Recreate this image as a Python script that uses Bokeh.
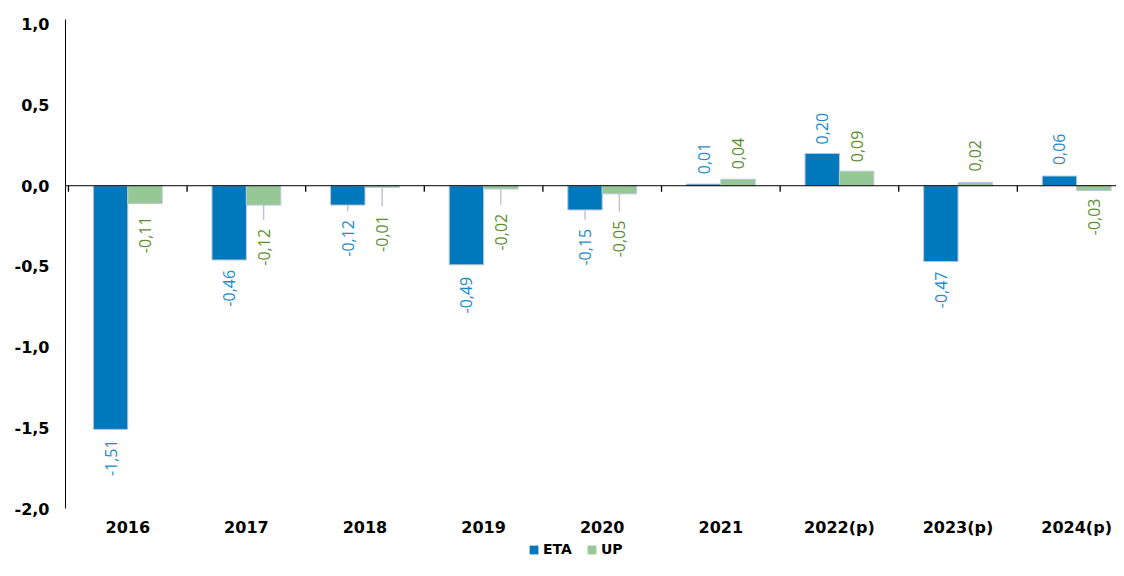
from bokeh.plotting import figure
from bokeh.layouts import column
from bokeh.models import Range1d, FixedTicker, Legend, LegendItem, ColumnDataSource, Span
from bokeh.core.properties import value
from bokeh.embed import file_html
from bokeh.resources import INLINE

# ---------------- data ----------------
categories = ["2016", "2017", "2018", "2019", "2020", "2021", "2022(p)", "2023(p)", "2024(p)"]
eta = [-1.51, -0.46, -0.12, -0.49, -0.15, 0.01, 0.20, -0.47, 0.06]
up = [-0.11, -0.12, -0.01, -0.02, -0.05, 0.04, 0.09, 0.02, -0.03]
series_names = ["ETA", "UP"]
y_ticks = [-2.0, -1.5, -1.0, -0.5, 0.0, 0.5, 1.0]
y_tick_labels = ["-2,0", "-1,5", "-1,0", "-0,5", "0,0", "0,5", "1,0"]

# ---------------- style ----------------
eta_gap_px = [10, 10, 15, 12, 19, 10, 9, 10, 11]
up_gap_px = [13, 24, 28, 25, 27, 10, 9, 11, 8]

W = 1116
H_MAIN, H_LEG = 539, 21
B_LEFT, B_RIGHT, B_TOP, B_BOTTOM = 65, 0, 19, 28
Y0, Y1 = -2.0, 1.03
ppu = (H_MAIN - B_TOP - B_BOTTOM) / (Y1 - Y0)

ETA_COLOR = "#0079BC"
UP_COLOR = "#95C894"
ETA_TEXT = "#1E8BCD"
UP_TEXT = "#5E8E34"
OUTLINE = "#BAC5D6"
LEADER = "#C0C6D0"
FONT = "DejaVu Sans"
LABEL_FONT = "Open Sans"
DODGE = 0.145
BAR_W = 0.29

n = len(categories)
xs = list(range(n))

p = figure(width=W, height=H_MAIN, output_backend="svg", toolbar_location=None,
           x_range=Range1d(-0.525, 8.336), y_range=Range1d(Y0, Y1),
           min_border_left=B_LEFT, min_border_right=B_RIGHT,
           min_border_top=B_TOP, min_border_bottom=B_BOTTOM)
p.outline_line_color = None
p.xgrid.visible = False
p.ygrid.visible = False
p.background_fill_color = "white"

# bars
src_eta = ColumnDataSource(dict(x=[i - DODGE for i in xs], top=eta))
src_up = ColumnDataSource(dict(x=[i + DODGE for i in xs], top=up))
p.vbar(x="x", top="top", bottom=0, width=BAR_W, source=src_eta,
       fill_color=ETA_COLOR, line_color=OUTLINE, line_width=1)
p.vbar(x="x", top="top", bottom=0, width=BAR_W, source=src_up,
       fill_color=UP_COLOR, line_color=OUTLINE, line_width=1)

# zero line and category boundary ticks
p.add_layout(Span(location=0, dimension="width", line_color="black", line_width=1))
p.segment(x0=[i - 0.5 for i in xs], x1=[i - 0.5 for i in xs],
          y0=[0] * n, y1=[-6 / ppu] * n, line_color="black", line_width=1.3)


def fmt(v):
    return f"{v:.2f}".replace(".", ",")


def add_labels(vals, gaps, offs, color):
    for sign, align in ((-1, "right"), (1, "left")):
        lx, ly, lt = [], [], []
        for i, v in enumerate(vals):
            s = -1 if v < 0 else 1
            if s != sign:
                continue
            lx.append(i + offs)
            ly.append(v + s * gaps[i] / ppu)
            lt.append(fmt(v))
        if lx:
            p.text(x=lx, y=ly, text=lt, angle=1.5707963, text_align=align,
                   text_baseline="middle", text_color=color,
                   text_font=value(LABEL_FONT), text_font_size="16px")
    # leader lines
    x0, y0, y1 = [], [], []
    for i, v in enumerate(vals):
        if gaps[i] >= 15:
            s = -1 if v < 0 else 1
            x0.append(i + offs)
            y0.append(v)
            y1.append(v + s * (gaps[i] - 9) / ppu)
    if x0:
        p.segment(x0=x0, x1=x0, y0=y0, y1=y1, line_color=LEADER, line_width=1.5)


add_labels(eta, eta_gap_px, -DODGE, ETA_TEXT)
add_labels(up, up_gap_px, DODGE, UP_TEXT)

# axes
p.xaxis.ticker = FixedTicker(ticks=xs)
p.xaxis.major_label_overrides = {i: c for i, c in zip(xs, categories)}
p.xaxis.axis_line_color = None
p.xaxis.major_tick_line_color = None
p.xaxis.minor_tick_line_color = None
p.xaxis.major_tick_out = 0
p.xaxis.minor_tick_out = 0
p.xaxis.major_label_standoff = 9
p.xaxis.major_label_text_font = FONT
p.xaxis.major_label_text_font_style = "bold"
p.xaxis.major_label_text_font_size = "16px"
p.xaxis.major_label_text_color = "black"

p.yaxis.ticker = FixedTicker(ticks=y_ticks)
p.yaxis.major_label_overrides = {t: l for t, l in zip(y_ticks, y_tick_labels)}
p.yaxis.axis_line_color = "black"
p.yaxis.axis_line_width = 1
p.yaxis.major_tick_line_color = None
p.yaxis.minor_tick_line_color = None
p.yaxis.major_tick_out = 0
p.yaxis.minor_tick_out = 0
p.yaxis.major_label_standoff = 16
p.yaxis.major_label_text_font = FONT
p.yaxis.major_label_text_font_style = "bold"
p.yaxis.major_label_text_font_size = "16px"
p.yaxis.major_label_text_color = "black"

# legend strip (series renderers drawn outside its visible range, used for the key)
lf = figure(width=W, height=H_LEG, output_backend="svg", toolbar_location=None,
            x_axis_type=None, y_axis_type=None, min_border=0,
            x_range=Range1d(0, 1), y_range=Range1d(50, 51))
lf.outline_line_color = None
lf.xgrid.visible = False
lf.ygrid.visible = False
l_eta = lf.vbar(x="x", top="top", bottom=0, width=BAR_W, source=src_eta,
                fill_color=ETA_COLOR, line_color=None)
l_up = lf.vbar(x="x", top="top", bottom=0, width=BAR_W, source=src_up,
               fill_color=UP_COLOR, line_color=None)
legend = Legend(items=[LegendItem(label=series_names[0], renderers=[l_eta]),
                       LegendItem(label=series_names[1], renderers=[l_up])],
                orientation="horizontal", location=(463, 3))
legend.label_text_font = FONT
legend.label_text_font_style = "bold"
legend.label_text_font_size = "14px"
legend.label_text_color = "black"
legend.glyph_width = 11
legend.glyph_height = 11
legend.label_height = 16
legend.label_standoff = 4
legend.spacing = 14
legend.padding = 0
legend.margin = 0
legend.border_line_color = None
legend.background_fill_alpha = 0
lf.add_layout(legend, "center")

layout = column(p, lf, spacing=0)
open("out.html", "w").write(file_html(layout, INLINE))
